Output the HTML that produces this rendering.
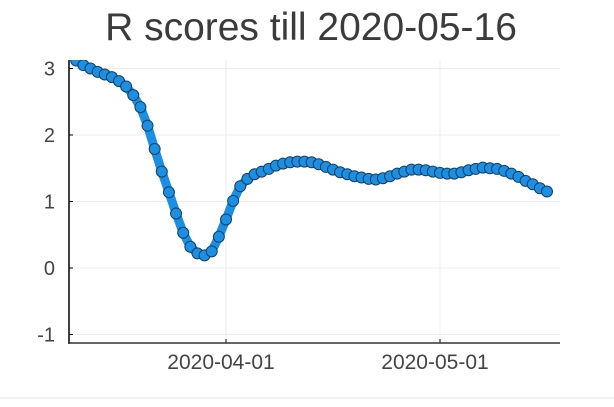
<!DOCTYPE html>
<html><head><meta charset="utf-8"><style>
body{margin:0;background:#fff;width:614px;height:402px;overflow:hidden;font-family:"Liberation Sans",sans-serif}
</style></head><body>
<svg width="614" height="402">
<defs><clipPath id="pc"><rect x="69" y="60" width="491" height="283"/></clipPath></defs>
<text x="311" y="40" text-anchor="middle" font-size="39" fill="#3b3b3b">R scores till 2020-05-16</text>
<g id="grid"></g>
<g id="series" clip-path="url(#pc)"></g>
<g id="axes"></g>
<line x1="0" y1="398" x2="614" y2="398" stroke="#e4e4e4" stroke-width="1"/>
</svg>
<script>
const dayOffsets=[-21,-20,-19,-18,-17,-16,-15,-14,-13,-12,-11,-10,-9,-8,-7,-6,-5,-4,-3,-2,-1,0,1,2,3,4,5,6,7,8,9,10,11,12,13,14,15,16,17,18,19,20,21,22,23,24,25,26,27,28,29,30,31,32,33,34,35,36,37,38,39,40,41,42,43,44,45];
const rValues=[3.12,3.05,3.0,2.95,2.91,2.87,2.81,2.73,2.6,2.42,2.14,1.79,1.45,1.14,0.82,0.53,0.32,0.22,0.19,0.25,0.47,0.73,1.01,1.23,1.34,1.41,1.45,1.49,1.54,1.57,1.59,1.6,1.6,1.59,1.56,1.52,1.48,1.44,1.41,1.38,1.36,1.34,1.33,1.35,1.38,1.42,1.45,1.48,1.48,1.47,1.45,1.43,1.42,1.42,1.44,1.47,1.49,1.51,1.5,1.49,1.46,1.42,1.37,1.31,1.26,1.2,1.15];
const yTicks=[-1,0,1,2,3];
const xTickDays=[0,30];
const xTickLabels=["2020-04-01","2020-05-01"];
const NS="http://www.w3.org/2000/svg";
const xs=d=>226+7.133*d;
const ys=v=>268-66.5*v;
const L=69,R=560,T=60,B=343;
function mk(tag,attrs,parent){const e=document.createElementNS(NS,tag);for(const k in attrs)e.setAttribute(k,attrs[k]);parent.appendChild(e);return e;}
const grid=document.getElementById('grid'),axes=document.getElementById('axes'),series=document.getElementById('series');
yTicks.forEach(t=>{
  const g=mk('line',{x1:L,x2:R,y1:ys(t),y2:ys(t),stroke:'#ececec','stroke-width':1},grid);
  
  
  const tk=mk('line',{x1:L,x2:L+4,y1:ys(t),y2:ys(t),stroke:'#000','stroke-width':1},axes);
  
  
  const lb=mk('text',{x:55,y:ys(t)+7,'text-anchor':'end','font-size':20,fill:'#444'},axes);
  lb.textContent=t;
  
  
});
xTickDays.forEach((d,i)=>{
  const g=mk('line',{x1:xs(d),x2:xs(d),y1:T,y2:B,stroke:'#ececec','stroke-width':1},grid);
  
  
  const tk=mk('line',{x1:xs(d),x2:xs(d),y1:B,y2:B-4,stroke:'#000','stroke-width':1},axes);
  
  
  const lb=mk('text',{x:xs(d)-5,y:369,'text-anchor':'middle','font-size':21,fill:'#444'},axes);
  lb.textContent=xTickLabels[i];
  
  
});
const ya=mk('line',{x1:L,x2:L,y1:T,y2:B+1,stroke:'#000','stroke-width':1.5},axes);


const xa=mk('line',{x1:L,x2:R,y1:B,y2:B,stroke:'#333','stroke-width':1.5},axes);


const pts=dayOffsets.map((d,i)=>xs(d)+','+ys(rValues[i])).join(' ');
const pl=mk('polyline',{points:pts,fill:'none',stroke:'#1a8fe3','stroke-width':9,'stroke-linejoin':'round'},series);


dayOffsets.forEach((d,i)=>{
  const c=mk('circle',{cx:xs(d),cy:ys(rValues[i]),r:5.5,fill:'#1a8fe3',stroke:'#173f5f','stroke-width':1},series);
  
  
});
</script>
</body></html>
